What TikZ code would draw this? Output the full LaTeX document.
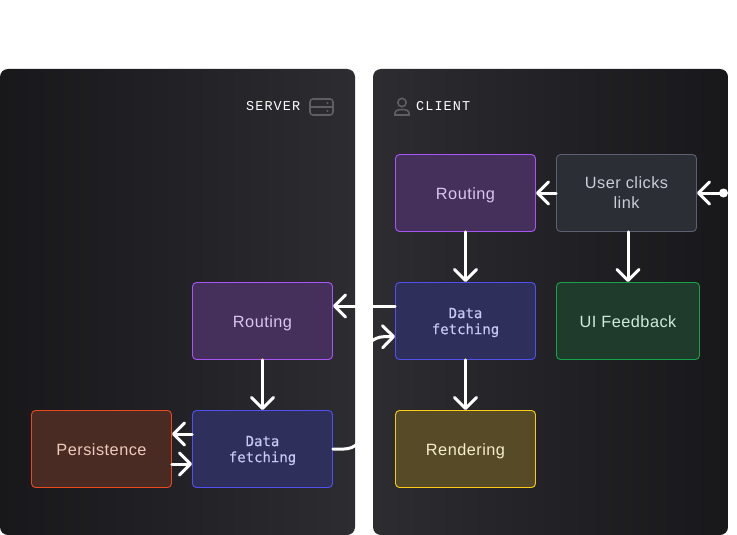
\documentclass[tikz,border=0pt]{standalone}
\usepackage{fontspec}
\setmainfont[LetterSpace=3]{Liberation Sans}
\newfontfamily\monofont[FakeBold=0.3]{DejaVu Sans Mono}
\newfontfamily\capsfont[LetterSpace=8]{Liberation Mono}
\usetikzlibrary{arrows.meta}

\definecolor{paneldark}{HTML}{18181B}
\definecolor{panellight}{HTML}{2C2C31}
\definecolor{icongray}{HTML}{5E5E64}
\definecolor{routingline}{HTML}{A855F7}\definecolor{routingfill}{HTML}{45305C}\definecolor{routingtext}{HTML}{D8C6F0}
\definecolor{fetchline}{HTML}{5050F0}\definecolor{fetchfill}{HTML}{2F2F5C}\definecolor{fetchtext}{HTML}{C9C8F2}
\definecolor{persistline}{HTML}{E8491D}\definecolor{persistfill}{HTML}{4A2B24}\definecolor{persisttext}{HTML}{EFC9BA}
\definecolor{renderline}{HTML}{FACC15}\definecolor{renderfill}{HTML}{574A27}\definecolor{rendertext}{HTML}{F5EDCB}
\definecolor{feedbackline}{HTML}{16A34A}\definecolor{feedbackfill}{HTML}{1F3B2C}\definecolor{feedbacktext}{HTML}{CFEBDA}
\definecolor{userline}{HTML}{5C6070}\definecolor{userfill}{HTML}{2C2E35}\definecolor{usertext}{HTML}{C9CDD9}

\tikzset{
  panel/.style={minimum width=355pt,minimum height=466pt,inner sep=0pt,rounded corners=8pt},
  basebox/.style={line width=0.9pt,rounded corners=4pt,minimum width=140pt,minimum height=77pt,
    inner sep=0pt,align=center,text depth=0pt,font=\fontsize{16.3}{20}\selectfont},
  oneline/.style={basebox,text height=12pt},
  routing/.style={oneline,draw=routingline,fill=routingfill,text=routingtext},
  fetching/.style={basebox,draw=fetchline,fill=fetchfill,text=fetchtext,
    font=\monofont\fontsize{14}{16}\selectfont},
  persist/.style={oneline,draw=persistline,fill=persistfill,text=persisttext},
  render/.style={oneline,draw=renderline,fill=renderfill,text=rendertext},
  feedback/.style={oneline,draw=feedbackline,fill=feedbackfill,text=feedbacktext},
  user/.style={basebox,draw=userline,fill=userfill,text=usertext},
  caps/.style={text=white,inner sep=0pt,font=\capsfont\fontsize{13.5}{16}\selectfont},
  flow/.style={white,line width=3pt,line cap=round,-{Straight Barb[length=11pt,width=22pt,line width=3pt,round]}},
}

\begin{document}
\begin{tikzpicture}[x=1pt,y=-1pt]
      \useasboundingbox (0,0) rectangle (737,535);

      \node[panel,left color=paneldark,right color=panellight] (server) at (177.5,302) {};
      \node[panel,left color=panellight,right color=paneldark] (client) at (550.5,302) {};

      \node[caps,anchor=west] (serverlabel) at (246,106.5) {SERVER};
      \node[caps,anchor=west] (clientlabel) at (416,106.5) {CLIENT};

      % icons
      \draw[icongray,line width=1.6pt,rounded corners=3pt] (310,99) rectangle (333,115);
      \draw[icongray,line width=1.6pt] (310,107) -- (333,107);
      \fill[icongray] (327.5,103) circle (1.1) (327.5,111) circle (1.1);
      \draw[icongray,line width=1.6pt] (402,102.5) circle (4.2);
      \draw[icongray,line width=1.6pt] (395,115) -- (395,113.5) .. controls (395,110.5) and (398,109.5) .. (402,109.5)
        .. controls (406,109.5) and (409,110.5) .. (409,113.5) -- (409,115) -- cycle;

      \node[routing] (croute) at (465.5,193) {Routing};
      \node[user] (click) at (626.5,193) {User clicks\\link};
      \node[fetching] (cdata) at (465.5,321) {Data\\fetching};
      \node[feedback,minimum width=143pt] (ui) at (628,321) {UI Feedback};
      \node[render] (rendering) at (465.5,449) {Rendering};

      \node[routing] (sroute) at (262.5,321) {Routing};
      \node[fetching] (sdata) at (262.5,449) {Data\\fetching};
      \node[persist] (store) at (101.5,449) {Persistence};

      \fill[white] (723.5,193) circle (4.5) coordinate (start);

      \draw[flow] (start) -- (click.east);
      \draw[flow] (click.west) -- (croute.east);
      \draw[flow] (croute.south) -- (cdata.north);
      \draw[flow] (click.south -| ui.north) -- (ui.north);
      \draw[flow] (cdata.south) -- (rendering.north);
      \draw[flow] ([yshift=15pt]cdata.west) -- ([yshift=15pt]sroute.east);
      \draw[flow] (sroute.south) -- (sdata.north);
      \draw[flow] ([yshift=15pt]sdata.west) -- ([yshift=15pt]store.east);
      \draw[flow] ([yshift=-15pt]store.east) -- ([yshift=-15pt]sdata.west);
      \draw[flow,rounded corners=20pt] (sdata.east) -- (364,449) -- (364,337) -- ([yshift=-15.5pt]cdata.west);
    \end{tikzpicture}
\end{document}
